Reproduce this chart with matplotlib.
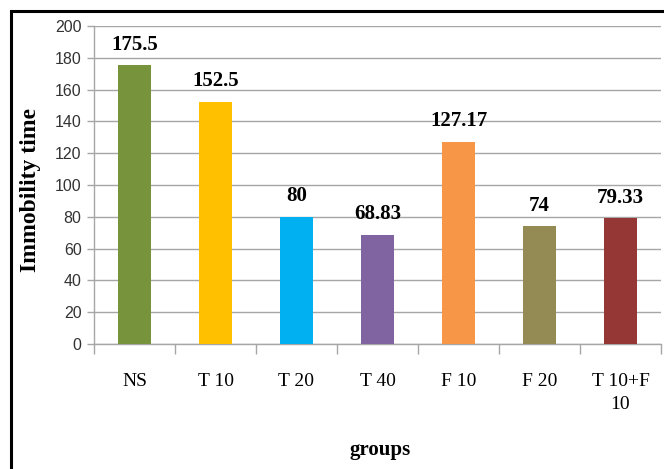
import numpy as np
import matplotlib.pyplot as plt
from matplotlib.patches import Rectangle

# ================= DATA ================= #
groups = ["NS", "T 10", "T 20", "T 40", "F 10", "F 20", "T 10+F\n10"]
immobility = [175.5, 152.5, 80, 68.83, 127.17, 74, 79.33]
value_labels = ["175.5", "152.5", "80", "68.83", "127.17", "74", "79.33"]
bar_colors = ["#77933C", "#FFC000", "#00B0F0", "#8064A2",
              "#F79646", "#948A54", "#953735"]

SERIF = "Liberation Serif"
SANS = "Liberation Sans"

# ================= PLOT ================= #
fig = plt.figure(figsize=(6.64, 4.69), dpi=100)
ax = fig.add_axes([94 / 664, 1 - 344 / 469, 567 / 664, 318 / 469])

x = np.arange(len(groups))
bars = ax.bar(x, immobility, width=0.41, color=bar_colors, zorder=3)

for bar, txt in zip(bars, value_labels):
    h = bar.get_height()
    ax.text(bar.get_x() + bar.get_width() / 2, h + 6.5, txt,
            ha="center", va="bottom", fontsize=15, fontweight="bold",
            family=SERIF)

ax.set_xlim(-0.5, len(groups) - 0.5)
ax.set_ylim(0, 200)
ax.set_yticks(np.arange(0, 201, 20))
ax.yaxis.grid(True, color="#A6A6A6", linewidth=1, zorder=0)
ax.set_axisbelow(True)

# category ticks sit on the boundaries, labels centred under bars
ax.set_xticks(np.arange(-0.5, len(groups), 1.0))
ax.set_xticklabels([])
ax.set_xticks(x, minor=True)
ax.set_xticklabels(groups, minor=True, fontsize=14, family=SERIF,
                   linespacing=1.45)
ax.tick_params(axis="x", which="major", length=7, color="#A6A6A6", width=1)
ax.tick_params(axis="x", which="minor", length=0, pad=21)
ax.tick_params(axis="y", length=5, color="#A6A6A6", width=1, labelsize=11.5,
               pad=4)
for lbl in ax.get_yticklabels():
    lbl.set_family(SANS)
    lbl.set_color("#333333")

for side in ["top", "right"]:
    ax.spines[side].set_visible(False)
for side in ["left", "bottom"]:
    ax.spines[side].set_color("#A6A6A6")
    ax.spines[side].set_linewidth(1)

ax.set_ylabel("Immobility time", fontsize=17, fontweight="bold",
              family=SERIF)
ax.yaxis.set_label_coords(-0.093, 0.485)
fig.text(380 / 664, 1 - 450 / 469, "groups", ha="center", va="center",
         fontsize=15, fontweight="bold", family=SERIF)

# outer chart frame (left and top edges visible)
fig.patches.append(Rectangle((11 / 664, -0.2), 1.2, 1.2 - 11 / 469,
                             transform=fig.transFigure, fill=False,
                             edgecolor="black", linewidth=2.2))

fig.savefig("out.png", dpi=100)
